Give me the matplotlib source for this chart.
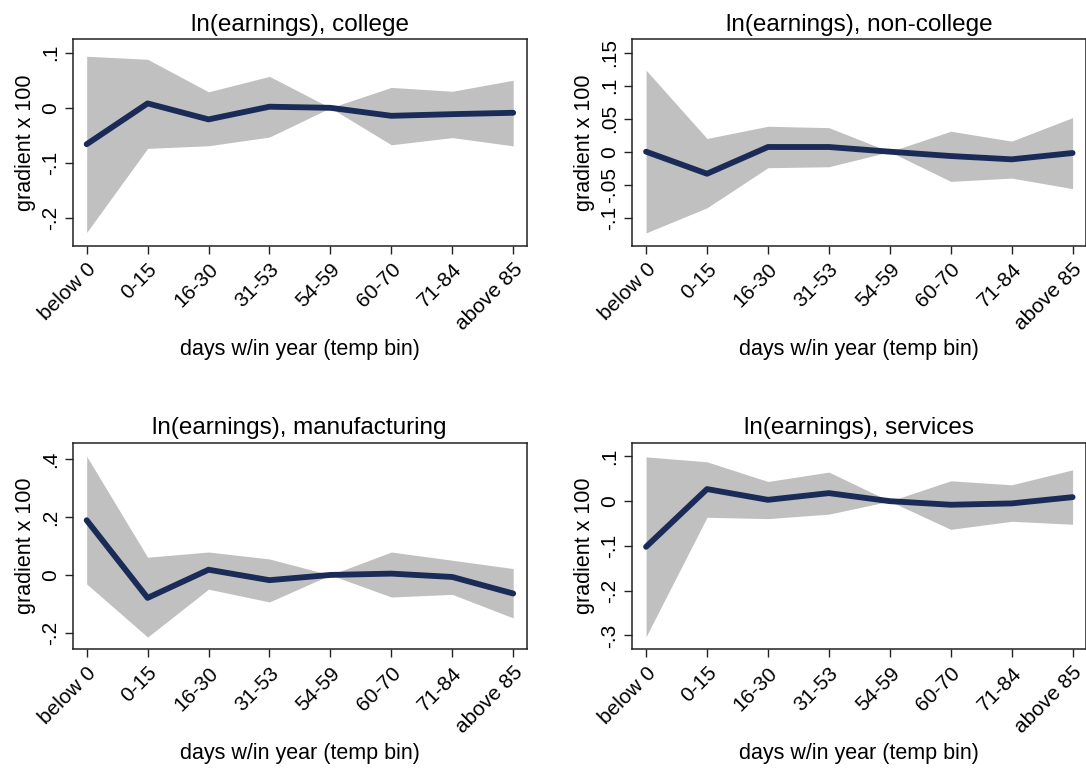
import numpy as np
import matplotlib.pyplot as plt

plt.rcParams['font.family'] = ['Liberation Sans', 'DejaVu Sans']

bins = ["below 0", "0-15", "16-30", "31-53", "54-59", "60-70", "71-84", "above 85"]

college_est = [-0.066, 0.008, -0.021, 0.002, 0.0, -0.0145, -0.0115, -0.009]
college_hi = [0.0935, 0.088, 0.029, 0.057, 0.0, 0.037, 0.030, 0.050]
college_lo = [-0.226, -0.0736, -0.0688, -0.053, 0.0, -0.067, -0.054, -0.069]

noncollege_est = [0.0, -0.0334, 0.0071, 0.0071, 0.0, -0.0066, -0.0116, -0.002]
noncollege_hi = [0.1235, 0.020, 0.0385, 0.0364, 0.0, 0.031, 0.016, 0.0516]
noncollege_lo = [-0.123, -0.085, -0.0243, -0.0228, 0.0, -0.045, -0.040, -0.056]

manuf_est = [0.1885, -0.079, 0.018, -0.018, 0.0, 0.0046, -0.007, -0.064]
manuf_hi = [0.409, 0.061, 0.079, 0.055, 0.0, 0.079, 0.0506, 0.022]
manuf_lo = [-0.031, -0.214, -0.049, -0.093, 0.0, -0.076, -0.067, -0.148]

services_est = [-0.102, 0.027, 0.003, 0.018, 0.0, -0.008, -0.005, 0.009]
services_hi = [0.099, 0.088, 0.044, 0.065, 0.0, 0.0455, 0.0366, 0.070]
services_lo = [-0.303, -0.036, -0.039, -0.029, 0.0, -0.063, -0.045, -0.0515]

titles = ["ln(earnings), college", "ln(earnings), non-college",
          "ln(earnings), manufacturing", "ln(earnings), services"]

yticks = [[0.1, 0.0, -0.1, -0.2],
          [0.15, 0.1, 0.05, 0.0, -0.05, -0.1],
          [0.4, 0.2, 0.0, -0.2],
          [0.1, 0.0, -0.1, -0.2, -0.3]]
yticklabels = [[".1", "0", "-.1", "-.2"],
               [".15", ".1", ".05", "0", "-.05", "-.1"],
               [".4", ".2", "0", "-.2"],
               [".1", "0", "-.1", "-.2", "-.3"]]
ylims = [(-0.250, 0.1248), (-0.1424, 0.1707), (-0.256, 0.456), (-0.331, 0.131)]

series = [(college_est, college_lo, college_hi),
          (noncollege_est, noncollege_lo, noncollege_hi),
          (manuf_est, manuf_lo, manuf_hi),
          (services_est, services_lo, services_hi)]

# axes rectangles (figure fraction)
rects = [[0.0669, 0.6805, 0.418, 0.2688],
         [0.5820, 0.6805, 0.418, 0.2688],
         [0.0669, 0.1557, 0.418, 0.2688],
         [0.5820, 0.1557, 0.418, 0.2688]]

fig = plt.figure(figsize=(10.86, 7.69), dpi=100)
x = np.arange(len(bins))

for i in range(4):
    ax = fig.add_axes(rects[i])
    est, lo, hi = series[i]
    ax.fill_between(x, lo, hi, color='#c0c0c0', linewidth=0)
    ax.plot(x, est, color='#1a2b57', linewidth=4.2, solid_capstyle='round')
    ax.set_xlim(-0.23, 7.22)
    ax.set_ylim(*ylims[i])
    ax.set_xticks(x)
    ax.set_xticklabels(bins, rotation=45, ha='right', va='top',
                       rotation_mode='anchor', fontsize=15)
    ax.set_yticks(yticks[i])
    ax.set_yticklabels(yticklabels[i], rotation=90, va='center', fontsize=15)
    ax.tick_params(length=6, width=1, color='#222222', pad=4)
    ax.tick_params(axis='y', pad=3)
    for s in ax.spines.values():
        s.set_linewidth(1.1)
        s.set_color('#222222')
    ax.set_title(titles[i], fontsize=17.5, pad=6)
    ax.set_ylabel("gradient x 100", fontsize=15.5, labelpad=4)
    ax.set_xlabel("days w/in year (temp bin)", fontsize=15.5, labelpad=4)

fig.savefig("out.png", dpi=100)
